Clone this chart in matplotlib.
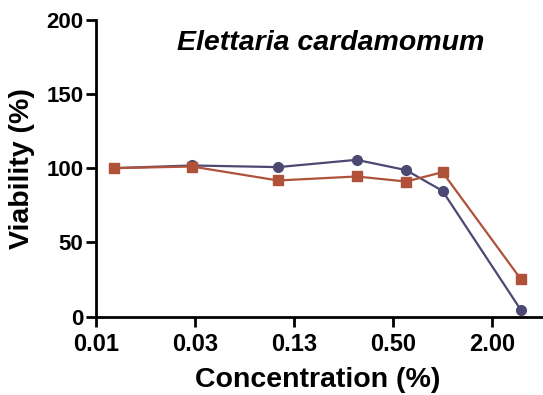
import numpy as np
import matplotlib.pyplot as plt
from matplotlib.ticker import FixedLocator, NullLocator

plt.rcParams['font.family'] = ['Liberation Sans', 'DejaVu Sans']
plt.rcParams['font.weight'] = 'bold'

# Datos
concentracion = [0.01, 0.03, 0.1, 0.3, 0.6, 1.0, 3.0]
serie_circulo = [100, 101.8, 100.7, 105.6, 98.7, 84.7, 4.5]
serie_cuadrado = [100, 101.1, 91.7, 94.4, 91.0, 97.3, 25.2]
ticks_x = [2**-7, 2**-5, 2**-3, 2**-1, 2**1]
etiquetas_x = ['0.01', '0.03', '0.13', '0.50', '2.00']
ticks_y = [0, 50, 100, 150, 200]

fig = plt.figure(figsize=(5.43, 3.95), dpi=100)
ax = fig.add_axes([0.1768, 0.198, 0.8232, 0.7526])

ax.plot(concentracion, serie_circulo, '-o', color='#4b4872', lw=1.6, ms=7,
        clip_on=False, zorder=3)
ax.plot(concentracion, serie_cuadrado, '-s', color='#b0523a', lw=1.6, ms=7,
        clip_on=False, zorder=4)

ax.set_xscale('log', base=2)
ax.set_xlim(2**-7, 2**2.03)
ax.set_ylim(0, 200)
ax.xaxis.set_major_locator(FixedLocator(ticks_x))
ax.xaxis.set_minor_locator(NullLocator())
ax.set_xticklabels(etiquetas_x)
ax.set_yticks(ticks_y)

for s in ['top', 'right']:
    ax.spines[s].set_visible(False)
for s in ['left', 'bottom']:
    ax.spines[s].set_linewidth(2)
ax.tick_params(width=2, length=7)
ax.tick_params(axis='x', pad=5, labelsize=17)
ax.tick_params(axis='y', pad=2, labelsize=16)
for lab in ax.get_xticklabels() + ax.get_yticklabels():
    lab.set_fontweight('bold')

ax.set_xlabel('Concentration (%)', fontsize=20.5, fontweight='bold')
ax.set_ylabel('Viability (%)', fontsize=20.5, fontweight='bold')
ax.xaxis.set_label_coords(0.497, -0.213)
ax.yaxis.set_label_coords(-0.166, 0.5)
ax.xaxis.label.set_va('center')
ax.yaxis.label.set_va('center')
ax.text(0.524, 0.921, 'Elettaria cardamomum', transform=ax.transAxes,
        ha='center', va='center', fontsize=20.5, fontweight='bold', style='italic')

fig.savefig('out.png', dpi=100)
